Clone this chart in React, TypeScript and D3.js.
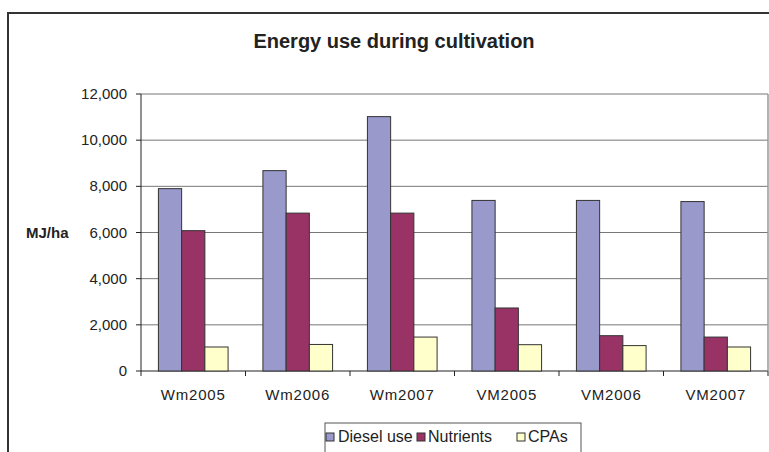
import React from "react";
import * as d3 from "d3";

const categories = ["Wm2005", "Wm2006", "Wm2007", "VM2005", "VM2006", "VM2007"];
const seriesNames = ["Diesel use", "Nutrients", "CPAs"];
const dieselUse = [7900, 8680, 11020, 7390, 7390, 7340];
const nutrients = [6080, 6840, 6840, 2730, 1530, 1470];
const cpas = [1040, 1150, 1470, 1140, 1100, 1040];
const seriesColors = ["#9999CC", "#993366", "#FFFFCC"];
const yTicks = [0, 2000, 4000, 6000, 8000, 10000, 12000];

export default function App() {
  const W = 769, H = 452;
  const left = 141, right = 768, top = 94, bottom = 371;
  const series = [dieselUse, nutrients, cpas];

  const x = d3.scaleBand<string>().domain(categories).range([left, right]).paddingInner(1 / 3).paddingOuter(1 / 6);
  const xi = d3.scaleBand<number>().domain([0, 1, 2]).range([0, x.bandwidth()]);
  const y = d3.scaleLinear().domain([0, 12000]).range([bottom, top]);
  const fmt = d3.format(",");
  const step = x.step();

  const legendItems = [
    { x: 326, tx: 338 },
    { x: 417, tx: 428 },
    { x: 517, tx: 528 },
  ];

  return (
    <svg width={W} height={H} style={{ position: "absolute", left: 0, top: 0 }} fontFamily="'Liberation Sans', Arial, sans-serif">
      <rect x={0} y={0} width={W} height={H} fill="#fff" />
      {/* outer frame */}
      <line x1={8} y1={13} x2={W} y2={13} stroke="#333" strokeWidth={2} />
      <line x1={8} y1={12} x2={8} y2={H} stroke="#333" strokeWidth={2} />
      <text x={394} y={48} textAnchor="middle" fontSize={20} fontWeight="bold" fill="#222">Energy use during cultivation</text>

      {/* gridlines */}
      {yTicks.map((t) => (
        <line key={t} x1={left} x2={right} y1={y(t)} y2={y(t)} stroke={t === 0 ? "#222" : "#777"} strokeWidth={1} />
      ))}
      <line x1={right} x2={right} y1={top} y2={bottom} stroke="#999" strokeWidth={1.5} />

      {/* bars */}
      {categories.map((c, i) => (
        <g key={c}>
          {series.map((s, j) => (
            <rect key={j} x={(x(c) as number) + (xi(j) as number)} y={y(s[i])} width={xi.bandwidth()} height={bottom - y(s[i])}
              fill={seriesColors[j]} stroke="#333" strokeWidth={1} />
          ))}
        </g>
      ))}

      {/* y axis */}
      <line x1={left} x2={left} y1={top} y2={bottom} stroke="#222" strokeWidth={1} />
      {yTicks.map((t) => (
        <g key={t}>
          <line x1={left - 5} x2={left} y1={y(t)} y2={y(t)} stroke="#222" />
          <text x={127} y={y(t) + 5} textAnchor="end" fontSize={15} fill="#222">{fmt(t)}</text>
        </g>
      ))}
      <text x={26} y={238} fontSize={15} fontWeight="bold" fill="#222">MJ/ha</text>

      {/* x axis */}
      {d3.range(categories.length + 1).map((k) => (
        <line key={k} x1={left + k * step} x2={left + k * step} y1={bottom} y2={bottom + 5} stroke="#222" />
      ))}
      {categories.map((c) => (
        <text key={c} x={(x(c) as number) + x.bandwidth() / 2} y={400} textAnchor="middle" fontSize={15} fill="#222" letterSpacing={0.8}>{c}</text>
      ))}

      {/* legend */}
      <rect x={325} y={423} width={256} height={40} fill="#fff" stroke="#555" strokeWidth={1} />
      {seriesNames.map((n, j) => (
        <g key={n}>
          <rect x={legendItems[j].x} y={433} width={8} height={8} fill={seriesColors[j]} stroke="#333" />
          <text x={legendItems[j].tx} y={442} fontSize={16} fill="#222">{n}</text>
        </g>
      ))}
    </svg>
  );
}
